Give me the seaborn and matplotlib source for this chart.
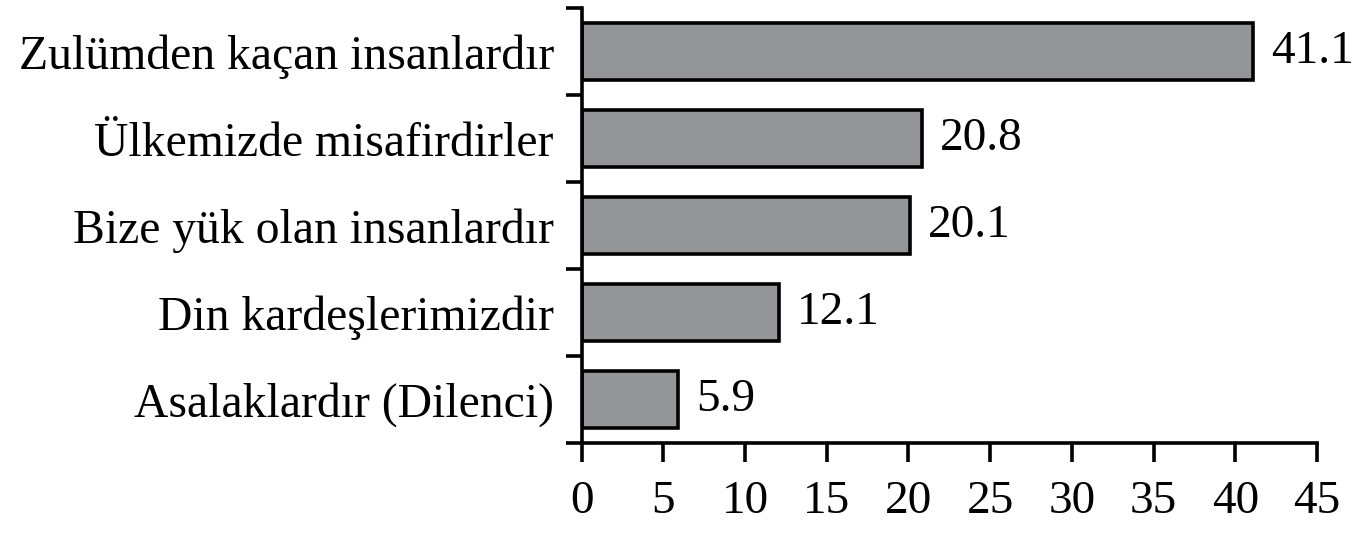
import matplotlib
matplotlib.use('Agg')
import matplotlib.pyplot as plt
import seaborn as sns
import numpy as np
import pandas as pd

categories = ['Zulümden kaçan insanlardır', 'Ülkemizde misafirdirler',
              'Bize yük olan insanlardır', 'Din kardeşlerimizdir',
              'Asalaklardır (Dilenci)']
values = [41.1, 20.8, 20.1, 12.1, 5.9]
xticks = [0, 5, 10, 15, 20, 25, 30, 35, 40, 45]

sns.set_style('white')
plt.rcParams['font.family'] = ['Liberation Serif', 'DejaVu Serif']
plt.rcParams['text.color'] = 'black'
plt.rcParams['xtick.color'] = 'black'
plt.rcParams['ytick.color'] = 'black'

df = pd.DataFrame({'label': categories, 'value': values})

fig = plt.figure(figsize=(13.62, 5.39), dpi=100)
ax = fig.add_axes([0.427, 0.178, 0.540, 0.807])

sns.barplot(data=df, x='value', y='label', orient='h', color='#939598',
            edgecolor='black', linewidth=2.6, width=0.65, saturation=1, ax=ax)

for i, v in enumerate(values):
    ax.text(v + 1.1, i, f'{v:.1f}', va='center', ha='left', fontsize=34,
            color='black')

ax.set_xlim(0, 45)
ax.set_ylim(len(categories) - 0.5, -0.5)
ax.set_xticks(xticks)
ax.set_xticklabels([str(t) for t in xticks], fontsize=34)

# ticks between categories, labels at centres
ax.set_yticks(np.arange(len(categories) + 1) - 0.5)
ax.set_yticklabels([])
ax.set_yticks(np.arange(len(categories)), minor=True)
ax.set_yticklabels(categories, minor=True, fontsize=34.3)
ax.tick_params(axis='y', which='minor', left=True, length=0, pad=20)
ax.tick_params(axis='y', which='major', left=True, length=11.5, width=2.6,
               direction='out')
ax.tick_params(axis='x', bottom=True, length=14, width=2.6, direction='out',
               pad=13)

ax.set_xlabel('')
ax.set_ylabel('')
for side in ['top', 'right']:
    ax.spines[side].set_visible(False)
for side in ['left', 'bottom']:
    ax.spines[side].set_linewidth(2.6)
    ax.spines[side].set_color('black')

fig.savefig('out.png', dpi=100, facecolor='white')
